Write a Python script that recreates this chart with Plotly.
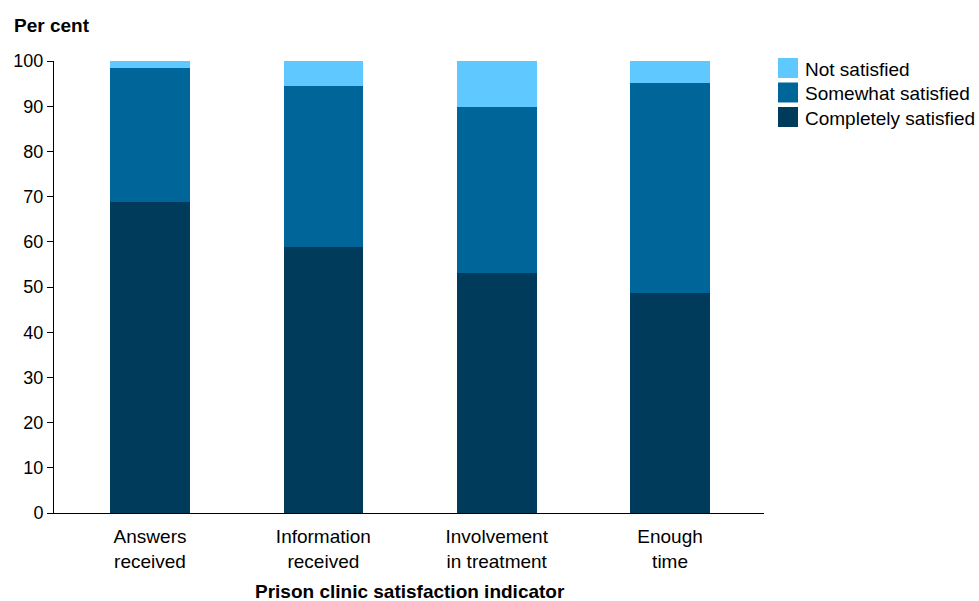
import plotly.graph_objects as go

categories = ["Answers<br>received", "Information<br>received", "Involvement<br>in treatment", "Enough<br>time"]
completely = [68.9, 58.8, 53.1, 48.7]
somewhat = [29.6, 35.7, 36.8, 46.5]
not_satisfied = [1.5, 5.5, 10.1, 4.8]

series = [("Completely satisfied", completely, "#003B5C"),
          ("Somewhat satisfied", somewhat, "#00669A"),
          ("Not satisfied", not_satisfied, "#5FC8FF")]

# figure pixel geometry (body margin removed via post_script)
W, H = 979, 601
L, R, T, B = 54, 215, 61, 88
PW, PH = W - L - R, H - T - B

def px(x):
    return (x - L) / PW

def py(y):
    return (H - B - y) / PH

fig = go.Figure()
for name, vals, col in series:
    fig.add_trace(go.Bar(x=categories, y=vals, name=name, marker=dict(color=col, line=dict(width=0)),
                         hoverinfo="y+name", showlegend=False))

font_family = "Liberation Sans, Arial, sans-serif"
shapes = []
annotations = [
    dict(text="<b>Per cent</b>", x=px(12), y=py(26), xref="paper", yref="paper",
         xanchor="left", yanchor="middle", showarrow=False, font=dict(size=19)),
    dict(text="<b>Prison clinic satisfaction indicator</b>", x=px(410), y=py(591), xref="paper", yref="paper",
         xanchor="center", yanchor="middle", showarrow=False, font=dict(size=19)),
]
# custom legend (top to bottom: reversed order)
for i, (name, vals, col) in enumerate(reversed(series)):
    top = 58 + i * 24.5
    shapes.append(dict(type="rect", xref="paper", yref="paper", x0=px(778), x1=px(798),
                       y0=py(top + 20), y1=py(top), fillcolor=col, line=dict(width=0)))
    annotations.append(dict(text=name, xref="paper", yref="paper", x=px(803), y=py(top + 11.5),
                            xanchor="left", yanchor="middle", showarrow=False, font=dict(size=19)))

fig.update_layout(
    barmode="stack",
    bargap=0.54,
    width=W, height=H,
    margin=dict(l=L, r=R, t=T, b=B, autoexpand=False),
    plot_bgcolor="white", paper_bgcolor="white",
    font=dict(family=font_family, size=19, color="black"),
    xaxis=dict(range=[-0.554, 3.542], showline=True, linecolor="black", linewidth=1, ticks="",
               tickfont=dict(size=19), showgrid=False, ticklabelstandoff=6),
    yaxis=dict(range=[0, 100], dtick=10, showline=True, linecolor="black", linewidth=1, ticks="outside",
               ticklen=6, tickcolor="black", tickfont=dict(size=18), showgrid=False, zeroline=False),
    shapes=shapes,
    annotations=annotations,
)

fig.write_html("out.html", config={"displayModeBar": False},
               post_script="document.body.style.margin='0';document.body.style.overflow='hidden';")
